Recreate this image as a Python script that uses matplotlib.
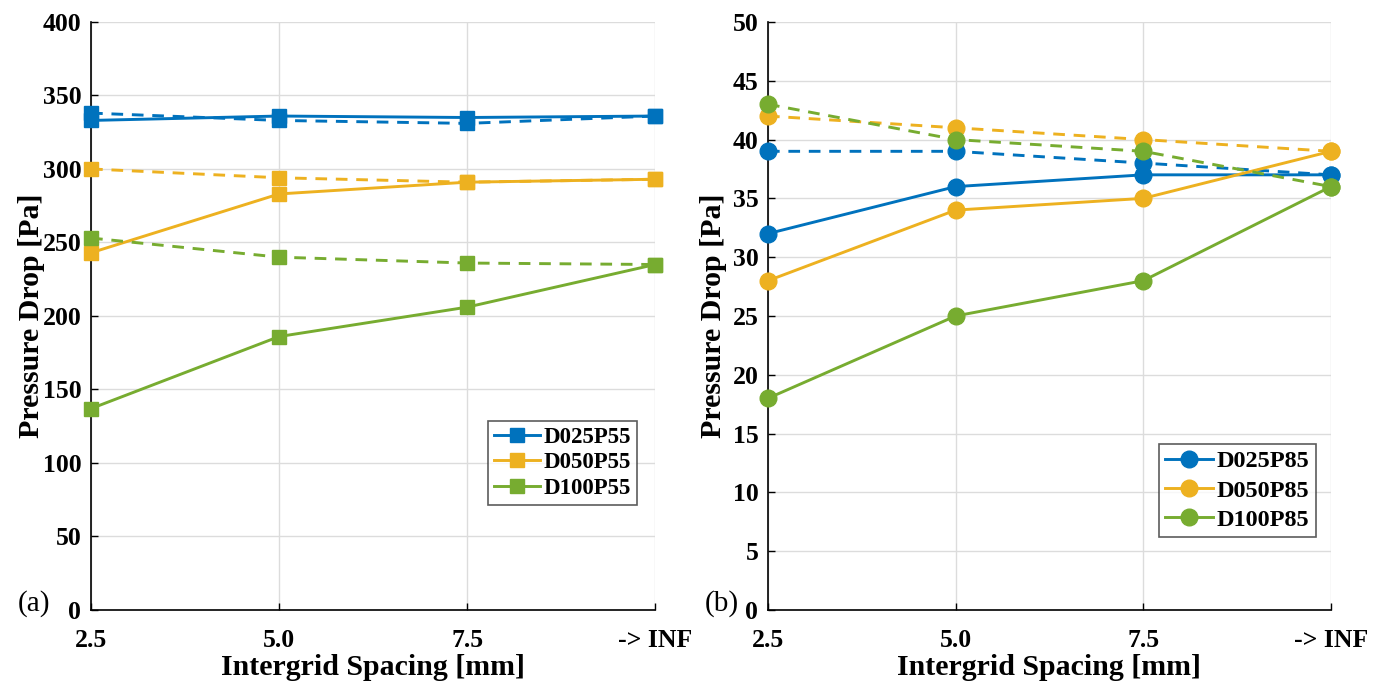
import matplotlib
matplotlib.use("Agg")
import matplotlib.pyplot as plt

plt.rcParams['font.family'] = ['Liberation Serif', 'DejaVu Serif']

x_labels = ['2.5', '5.0', '7.5', '-> INF']
x_pos = [0, 1, 2, 3]

# Panel (a): P55
a_names = ['D025P55', 'D050P55', 'D100P55']
a_solid = {
    'D025P55': [333, 336, 335, 336],
    'D050P55': [243, 283, 291, 293],
    'D100P55': [137, 186, 206, 235],
}
a_dashed = {
    'D025P55': [338, 333, 331, 336],
    'D050P55': [300, 294, 291, 293],
    'D100P55': [253, 240, 236, 235],
}

# Panel (b): P85
b_names = ['D025P85', 'D050P85', 'D100P85']
b_solid = {
    'D025P85': [32, 36, 37, 37],
    'D050P85': [28, 34, 35, 39],
    'D100P85': [18, 25, 28, 36],
}
b_dashed = {
    'D025P85': [39, 39, 38, 37],
    'D050P85': [42, 41, 40, 39],
    'D100P85': [43, 40, 39, 36],
}

colors = ['#0072BD', '#EDB120', '#77AC30']

fig = plt.figure(figsize=(13.86, 6.88), dpi=100)
axA = fig.add_axes([0.0657, 0.1134, 0.407, 0.8547])
axB = fig.add_axes([0.5541, 0.1134, 0.4062, 0.8547])


def draw(ax, names, solid, dashed, marker, ms, ylim, yticks, legend_bbox, leg_size,
         leg_spacing, ylabelpad, tag, tag_x):
    handles = []
    for name, c in zip(names, colors):
        h, = ax.plot(x_pos, solid[name], '-', color=c, lw=2.1, marker=marker, ms=ms,
                     label=name, clip_on=False, zorder=3)
        ax.plot(x_pos, dashed[name], '--', color=c, lw=2.1, marker=marker, ms=ms,
                clip_on=False, zorder=3, dashes=(4, 3))
        handles.append(h)
    ax.set_xlim(0, 3)
    ax.set_ylim(*ylim)
    ax.set_yticks(yticks)
    ax.set_xticks(x_pos)
    ax.set_xticklabels(x_labels)
    for lab in ax.get_xticklabels() + ax.get_yticklabels():
        lab.set_fontweight('bold')
        lab.set_fontsize(18.5)
    ax.tick_params(direction='in', length=5, width=1)
    ax.tick_params(axis='y', pad=7)
    ax.tick_params(axis='x', pad=14)
    ax.grid(True, color='#dcdcdc', lw=1)
    ax.set_axisbelow(True)
    ax.spines['top'].set_visible(False)
    ax.spines['right'].set_visible(False)
    ax.spines['left'].set_linewidth(1.2)
    ax.spines['bottom'].set_linewidth(1.2)
    ax.set_xlabel('Intergrid Spacing [mm]', fontsize=21.5, fontweight='bold', labelpad=1)
    ax.set_ylabel('Pressure Drop [Pa]', fontsize=21.5, fontweight='bold', labelpad=ylabelpad)
    leg = ax.legend(handles=handles, loc='lower right', bbox_to_anchor=legend_bbox,
                    prop={'weight': 'bold', 'size': leg_size}, frameon=True, fancybox=False,
                    edgecolor='#333333', handlelength=2.0, handletextpad=0.15,
                    borderpad=0.25, labelspacing=leg_spacing, borderaxespad=0)
    leg.get_frame().set_linewidth(1.2)
    fig.text(tag_x, 1 - 604 / 688, tag, fontsize=21, ha='center', va='center')


draw(axA, a_names, a_solid, a_dashed, 's', 10, (0, 400), range(0, 401, 50),
     (0.967, 0.179), 16.5, 0.2, -2, '(a)', 34 / 1386)
draw(axB, b_names, b_solid, b_dashed, 'o', 12, (0, 50), range(0, 51, 5),
     (0.973, 0.124), 17.5, 0.3, 4, '(b)', 722 / 1386)

fig.savefig('out.png', dpi=100)
